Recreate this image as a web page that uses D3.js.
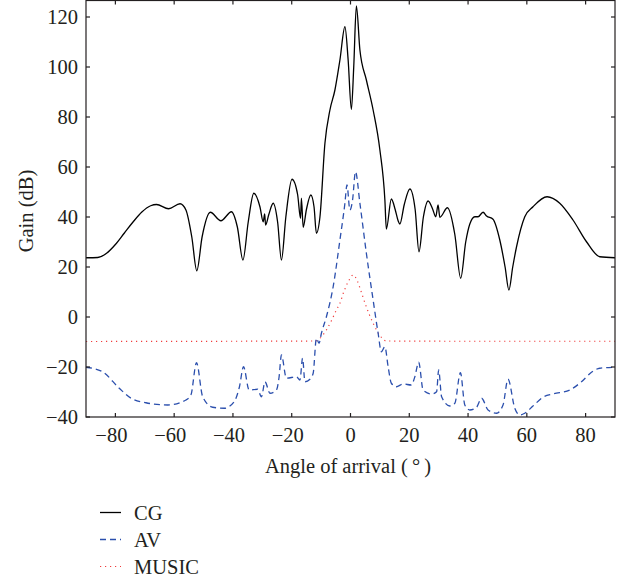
<!DOCTYPE html>
<html>

<head>
    <title>Gain vs angle of arrival</title>
    <script src="https://d3js.org/d3.v7.min.js"></script>
    <style>
        body { margin: 0; background: #fff; }
        text { font-family: "Liberation Serif", "DejaVu Serif", serif; fill: #231f20; }
    </style>
</head>

<body>

    <svg width="627" height="579" id="mainSvg"></svg>
    <script>
        // angle (deg) and gain (dB)
        const cgAngle = [-90, -86, -83, -80, -77, -74, -71, -68, -66, -61.9, -58, -56, -54, -52.3, -50.5, -47.7, -44.1, -40.5, -38.5,
            -36.6, -34.8, -32.9, -30.8, -29.7, -29.2, -28.9, -27.8, -26.3, -24.8, -23.5, -22, -19.9, -18, -17, -16.7, -16.1,
            -15, -13.5, -12.4, -11.6, -10.4, -8.7, -7, -5.3, -3.6, -1.9, -0.8, 0.3, 1.1, 2.0, 3.2, 5.4, 7.7, 10, 11.7, 12.2,
            13.9, 15.2, 16.2, 16.8, 18.3, 20.2, 22, 23.3, 24.8, 26.4, 28, 29, 29.8, 30.4, 33, 35.5, 37.5, 39.2, 40.6, 42.3,
            43.4, 45.1, 46.3, 48.5, 50.8, 52.6, 53.9, 55.2, 56.5, 59.3, 62.1, 66.9, 71.2, 75.7, 80.3, 84.8, 90];
        const cgGain = [23.7, 23.8, 25.5, 29, 33.5, 38, 42, 44.5, 45, 43.3, 45.3, 42.8, 32, 18.5, 32, 41.9, 38.5, 42.1, 36,
            22.8, 38, 49.5, 44, 38.1, 41.2, 36.8, 41, 45.5, 38, 22.8, 40, 55.1, 49, 39.5, 47.5, 35.9,
            43, 48.8, 44, 33.5, 40, 69.5, 82.8, 90.8, 102.8, 116.1, 102.8, 83, 100, 124.4, 106.8, 94.8, 82.8, 66.8, 46.8, 35.2,
            47.2, 43, 38.5, 37.2, 45, 51.2, 43, 26.1, 40, 46.4, 43, 40.1, 44.8, 39.9, 43.7, 33, 15.5, 30, 37.2, 40.1,
            40.1, 41.9, 40.4, 39.1, 30.8, 20, 10.8, 20, 28.1, 40.1, 44.1, 48.1, 45.5, 38.8, 30.1, 24.1, 23.7];

        const avAngle = [-90, -84.4, -78.7, -74.7, -69.6, -62.2, -56, -54.3, -52.4, -50.3, -46.9, -43, -39.6, -37.8, -36.4,
            -34.5, -31.6, -30.3, -29.1, -27.4, -25.2, -24.3, -23.5, -21.8, -18.4, -17.2, -16.3, -15.5, -13.8, -12.7, -11.6,
            -10.7, -9.9, -8.2, -5.9, -3.6, -1.9, -1.2, -0.2, 0.7, 1.7, 3.2, 5.4, 7.7, 9.4, 10.5, 11.7, 12.8, 13.9, 15.6,
            17.9, 20.7, 21.9, 23.2, 24.7, 27.6, 29.3, 30, 31, 33.8, 35.5, 37.4, 38.9, 40.6, 42.9, 44.6, 46.8, 49.7, 51.9,
            53.6, 55.9, 57.6, 59.3, 62.1, 65.5, 68.9, 74.6, 78.6, 82, 84.8, 90];
        const avGain = [-20.1, -21.9, -28.5, -32.5, -34.3, -35.2, -33.2, -31.2, -18.3, -31.9, -36.1, -36.5, -33.9, -28, -19.9,
            -29.2, -28.9, -31.9, -25.9, -30.5, -29.2, -24, -15.2, -24.5, -23.9, -25.2, -16.5, -25.9, -24.9, -22.5, -8.5,
            -10.5, -6.5, 0.1, 12.1, 30.8, 45.5, 52.8, 42.8, 46.8, 58.1, 45.5, 25.5, 6.8, -6.5, -13.9, -11.9, -19.9, -26.5, -27.9,
            -26.8, -27.2, -23.9, -18.1, -29.2, -30.8, -29.9, -21.2, -31.9, -35.6, -34.5, -22.3, -35.2, -37.2, -36.1, -32.5, -37.2, -38.5, -35.2,
            -24.9, -36.5, -39.2, -38.5, -35.6, -32.1, -30.8, -29.2, -25.9, -22.1, -20.5, -20.1];

        const musicAngle = [-90, -40, -12, -10.5, -8.2, -6.5, -4.8, -3.6, -2.3, -0.6, 0.9, 2.3, 3.8, 5.4, 7.7, 9.9, 12.2, 40, 90];
        const musicGain = [-9.8, -9.7, -9.6, -8.6, -5.2, -1.5, 2.8, 5.5, 10, 14.5, 16.8, 14.5, 9.5, 4, -2.5, -7.2, -9.6, -9.7, -9.7];

        const seriesNames = ["CG", "AV", "MUSIC"];
        const xTicks = [-80, -60, -40, -20, 0, 20, 40, 60, 80];
        const yTicks = [-40, -20, 0, 20, 40, 60, 80, 100, 120];

        const svg = d3.select("#mainSvg");
        const plotLeft = 86, plotRight = 615, plotTop = 0.5, plotBottom = 417;
        const fontSize = 20.5;

        const x = d3.scaleLinear().domain([-90, 90]).range([plotLeft, plotRight]);
        const y = d3.scaleLinear().domain([-40, 126.6]).range([plotBottom, plotTop]);

        const series = [
            { name: seriesNames[0], xs: cgAngle, ys: cgGain, color: "#000", width: 1.3, dash: null },
            { name: seriesNames[1], xs: avAngle, ys: avGain, color: "#2b4fad", width: 1.3, dash: "6,4" },
            { name: seriesNames[2], xs: musicAngle, ys: musicGain, color: "#f03c3c", width: 1.2, dash: "1.2,3.8" }
        ];

        const line = d3.line()
            .x(d => x(d[0]))
            .y(d => y(d[1]))
            .curve(d3.curveMonotoneX);

        const plot = svg.append("g");
        plot.selectAll(".series").data(series.slice().reverse()).join("path")
            .attr("class", "series")
            .attr("fill", "none")
            .attr("stroke", d => d.color)
            .attr("stroke-width", d => d.width)
            .attr("stroke-dasharray", d => d.dash)
            .attr("d", d => line(d.xs.map((v, i) => [v, d.ys[i]])));

        // frame with inward ticks on all sides
        const tickLen = 4;
        const frame = svg.append("g").attr("stroke", "#231f20").attr("stroke-width", 1.2);
        frame.append("rect")
            .attr("x", plotLeft).attr("y", plotTop)
            .attr("width", plotRight - plotLeft).attr("height", plotBottom - plotTop)
            .attr("fill", "none");

        frame.selectAll(".xtb").data(xTicks).join("line")
            .attr("class", "xtb")
            .attr("x1", d => x(d)).attr("x2", d => x(d))
            .attr("y1", plotBottom).attr("y2", plotBottom - tickLen);
        frame.selectAll(".xtt").data(xTicks).join("line")
            .attr("class", "xtt")
            .attr("x1", d => x(d)).attr("x2", d => x(d))
            .attr("y1", plotTop).attr("y2", plotTop + tickLen);
        frame.selectAll(".ytl").data(yTicks).join("line")
            .attr("class", "ytl")
            .attr("x1", plotLeft).attr("x2", plotLeft + tickLen)
            .attr("y1", d => y(d)).attr("y2", d => y(d));
        frame.selectAll(".ytr").data(yTicks).join("line")
            .attr("class", "ytr")
            .attr("x1", plotRight).attr("x2", plotRight - tickLen)
            .attr("y1", d => y(d)).attr("y2", d => y(d));

        const fmt = v => v < 0 ? "\u2212" + Math.abs(v) : String(v);

        svg.selectAll(".xlab").data(xTicks).join("text")
            .attr("class", "xlab")
            .attr("x", d => x(d) - (d < 0 ? 4 : 0))
            .attr("y", 442)
            .attr("text-anchor", "middle")
            .attr("font-size", fontSize)
            .text(fmt);

        svg.selectAll(".ylab").data(yTicks).join("text")
            .attr("class", "ylab")
            .attr("x", 78)
            .attr("y", d => y(d) + 7)
            .attr("text-anchor", "end")
            .attr("font-size", fontSize)
            .text(fmt);

        svg.append("text")
            .attr("x", 348)
            .attr("y", 473)
            .attr("text-anchor", "middle")
            .attr("font-size", fontSize)
            .text("Angle of arrival (\u2009\u00b0\u2009)");

        svg.append("text")
            .attr("transform", "translate(33,211) rotate(-90)")
            .attr("text-anchor", "middle")
            .attr("font-size", fontSize)
            .text("Gain (dB)");

        // legend
        const legend = svg.append("g").attr("transform", "translate(100,512.5)");
        const lg = legend.selectAll("g").data(series).join("g")
            .attr("transform", (d, i) => `translate(0,${i * 27})`);
        lg.append("line")
            .attr("x1", 0).attr("x2", 21)
            .attr("stroke", d => d.color)
            .attr("stroke-width", d => d.width)
            .attr("stroke-dasharray", d => d.dash);
        lg.append("text")
            .attr("x", 34)
            .attr("y", 7)
            .attr("font-size", fontSize)
            .text(d => d.name);
    </script>
</body>

</html>
